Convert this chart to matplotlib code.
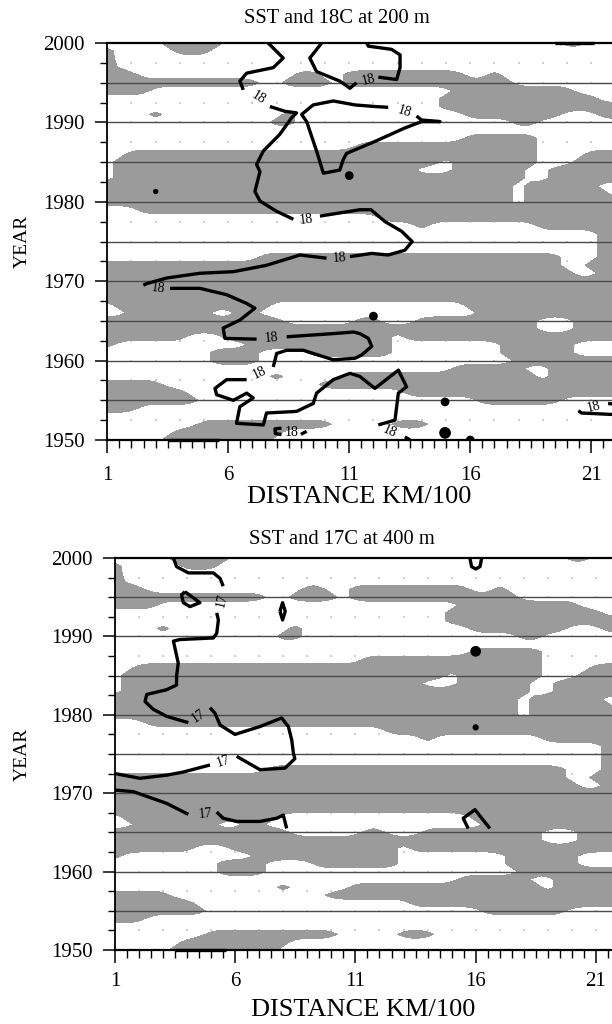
import numpy as np
import matplotlib.pyplot as plt
from matplotlib.ticker import FixedLocator, MultipleLocator

plt.rcParams['font.family'] = ['Liberation Serif', 'DejaVu Serif']

# grid of the SST field: distance (km/100) and year
dist = np.arange(1, 22.01, 0.25)
years = np.arange(1950, 2001)

# distance ranges with warm SST (gray) for each year
sst_spans = {
    2000: [(3.25, 5.75), (19.75, 20.75)],
    1999: [(0.75, 1.25), (3.75, 5.25)],
    1998: [(0.75, 1.3)],
    1997: [(0.75, 1.4)],
    1996: [(0.75, 2.25), (8.75, 9.75), (10.75, 15.75), (16.75, 17.25)],
    1995: [(0.75, 7.25), (8.25, 10.25), (10.75, 17.75)],
    1994: [(0.75, 2.75), (15.25, 20.25)],
    1993: [(14.75, 21.25)],
    1992: [(14.75, 22.25)],
    1991: [(2.75, 3.25), (8.25, 8.75), (15.75, 19.75), (21.25, 22.25)],
    1990: [(7.75, 8.75), (17.75, 18.75)],
    1989: [],
    1988: [(15.75, 18.75)],
    1987: [(11.25, 18.75)],
    1986: [(1.75, 18.75), (20.75, 22.25)],
    1985: [(1.25, 14.75), (15.25, 18.75), (20.25, 22.25)],
    1984: [(1.25, 13.75), (15.25, 18.25), (19.25, 22.25)],
    1983: [(1.25, 18.25), (19.25, 22.25)],
    1982: [(0.75, 17.75), (18.25, 21.25)],
    1981: [(0.75, 17.75), (18.25, 21.75)],
    1980: [(0.75, 17.75), (18.25, 22.25)],
    1979: [(2.25, 22.25)],
    1978: [(12.25, 22.25)],
    1977: [(13.75, 14.25), (18.75, 22.25)],
    1976: [(21.25, 22.25)],
    1975: [(21.25, 22.25)],
    1974: [(21.25, 22.25)],
    1973: [(7.25, 19.75), (21.25, 22.25)],
    1972: [(0.75, 19.75), (20.75, 22.25)],
    1971: [(0.75, 20.25), (21.25, 22.25)],
    1970: [(0.75, 22.25)],
    1969: [(0.75, 22.25)],
    1968: [(0.75, 22.25)],
    1967: [(1.25, 7.75), (15.75, 22.25)],
    1966: [(1.75, 5.25), (6.25, 7.25), (16.25, 22.25)],
    1965: [(0.75, 8.25), (11.25, 12.25), (13.75, 18.75), (20.25, 22.25)],
    1964: [(0.75, 18.75), (20.25, 22.25)],
    1963: [(0.75, 4.25), (5.75, 12.75), (13.25, 22.25)],
    1962: [(0.75, 1.25), (6.75, 12.75), (17.25, 20.25)],
    1961: [(5.25, 7.25), (9.25, 12.75), (17.25, 20.25)],
    1960: [(5.25, 7.25), (17.75, 22.25)],
    1959: [(15.25, 18.25), (19.25, 22.25)],
    1958: [(7.75, 8.25), (10.75, 18.75), (19.25, 22.25)],
    1957: [(0.75, 3.25), (9.75, 22.25)],
    1956: [(0.75, 4.25), (13.25, 22.25)],
    1955: [(0.75, 4.75), (16.25, 19.75)],
    1954: [(0.75, 2.25)],
    1953: [],
    1952: [(4.75, 10.25), (12.75, 14.25)],
    1951: [(3.75, 8.25)],
    1950: [(3.25, 7.75)],
}

# 18C isotherm at 200 m, traced as (distance, year)
iso18_paths = [
    [(7.65, 2000.0), (8.27, 1998.1), (7.86, 1996.9), (6.76, 1996.2), (6.48, 1995.2), (6.62, 1994.1)],
    [(7.72, 1992.0), (8.34, 1991.4), (8.82, 1991.2), (8.62, 1990.6), (8.13, 1988.5), (7.45, 1986.4),
     (7.17, 1984.7), (7.31, 1983.8), (7.1, 1981.3), (7.31, 1980.1), (8.0, 1978.8), (8.69, 1977.8)],
    [(9.79, 1978.2), (11.44, 1979.0), (11.9, 1979.0), (12.48, 1977.5), (13.16, 1976.3), (13.6, 1975.0),
     (13.3, 1973.9), (12.61, 1973.3), (11.93, 1973.5), (11.03, 1973.1)],
    [(10.06, 1972.9), (8.96, 1973.3), (7.58, 1972.0), (6.21, 1971.2), (4.83, 1971.0), (3.45, 1970.4),
     (2.63, 1969.7), (2.49, 1969.5)],
    [(3.59, 1969.1), (4.83, 1969.1), (5.93, 1968.3), (6.76, 1967.2), (7.1, 1966.6), (6.48, 1965.1),
     (5.79, 1964.1), (5.86, 1962.8), (7.17, 1962.7)],
    [(8.41, 1963.0), (10.34, 1963.4), (11.17, 1963.6), (11.44, 1963.4), (11.79, 1962.8), (11.93, 1961.8),
     (11.51, 1960.7), (11.24, 1960.3), (10.34, 1960.1), (9.1, 1961.3), (8.41, 1961.3), (8.0, 1960.9),
     (7.86, 1959.2)],
    [(6.76, 1957.6), (5.93, 1957.6), (5.45, 1956.5), (5.52, 1955.7), (6.21, 1955.0), (6.76, 1955.9),
     (7.03, 1955.3), (6.48, 1954.2), (6.34, 1952.1), (7.45, 1951.9), (7.58, 1953.4), (8.82, 1953.6),
     (9.51, 1954.6), (9.65, 1955.9), (10.34, 1957.6), (11.03, 1958.4), (11.44, 1958.0), (12.06, 1956.5),
     (13.03, 1958.8), (13.37, 1956.7), (13.03, 1955.9), (12.89, 1952.5), (12.2, 1951.9)],
    [(13.3, 1950.4), (13.51, 1950.0)],
    [(9.86, 2000.0), (9.37, 1998.1), (9.65, 1996.4), (10.61, 1995.2), (11.03, 1994.3), (11.3, 1995.0)],
    [(12.2, 1995.7), (12.96, 1995.4), (13.1, 1996.9), (13.1, 1998.5), (12.75, 1999.2), (11.79, 1999.6),
     (11.72, 2000.0)],
    [(12.61, 1991.9), (12.06, 1992.0), (11.24, 1992.2), (10.34, 1992.7), (9.51, 1992.2), (9.03, 1991.0),
     (9.24, 1990.1), (9.65, 1986.4), (9.93, 1983.6), (10.61, 1984.0), (10.75, 1985.3), (10.89, 1986.1),
     (11.44, 1986.8), (12.06, 1987.6), (13.3, 1989.3), (13.99, 1990.1), (14.75, 1990.1), (13.99, 1990.3),
     (13.78, 1990.8)],
    [(8.2, 1951.5), (7.93, 1951.4), (7.95, 1950.8), (8.2, 1950.7)],
    [(9.0, 1950.7), (9.24, 1951.1)],
    [(21.98, 1954.5), (21.7, 1954.6)],
    [(20.47, 1953.7), (20.6, 1953.4), (21.98, 1953.2)],
    [(19.5, 2000.0), (21.1, 2000.0)],
    [(3.5, 1950.0), (5.6, 1950.0)],
]
iso18_labels = [(7.24, 1993.1), (9.24, 1977.8), (10.6, 1972.9), (3.1, 1969.1), (7.79, 1962.8),
                (7.31, 1958.4), (12.68, 1951.0), (11.79, 1995.4), (13.3, 1991.4), (8.6, 1951.0),
                (21.1, 1954.1)]
iso18_dots = [(3.0, 1981.3), (11.0, 1983.3), (12.0, 1965.6), (14.96, 1954.8), (14.96, 1950.9), (16.0, 1950.0)]

# 17C isotherm at 400 m
iso17_paths = [
    [(3.43, 2000.0), (3.56, 1998.9), (4.05, 1998.1), (5.09, 1998.1), (5.37, 1997.4), (5.5, 1996.4)],
    [(5.23, 1993.0), (5.3, 1992.1), (5.23, 1990.4), (5.09, 1989.8), (3.7, 1989.6), (3.43, 1989.4),
     (3.63, 1986.6), (3.56, 1984.9), (3.56, 1983.8), (3.15, 1983.2), (2.32, 1982.6), (2.25, 1981.7),
     (2.59, 1980.7), (3.15, 1979.8), (4.05, 1979.0)],
    [(4.95, 1980.9), (5.16, 1980.2), (5.37, 1978.7), (5.99, 1977.5), (7.03, 1978.5), (7.93, 1979.6),
     (8.21, 1978.5), (8.35, 1976.8), (8.42, 1975.1), (8.48, 1974.4), (8.07, 1973.2), (7.03, 1973.0),
     (6.06, 1974.7)],
    [(4.95, 1973.6), (3.84, 1972.7), (3.15, 1972.3), (2.04, 1971.9), (1.0, 1972.5)],
    [(1.0, 1970.4), (1.76, 1970.2), (3.15, 1968.7), (4.05, 1967.3)],
    [(5.23, 1967.6), (5.5, 1966.8), (6.06, 1966.4), (7.03, 1966.4), (7.72, 1966.8), (8.0, 1967.2),
     (8.14, 1965.5)],
    [(3.91, 1995.7), (4.53, 1994.3), (4.12, 1993.8), (3.84, 1994.3), (3.77, 1995.3), (3.91, 1995.7)],
    [(7.86, 1993.2), (7.97, 1994.3), (8.08, 1993.2), (7.97, 1992.1), (7.86, 1993.2)],
    [(15.76, 2000.0), (15.83, 1998.9), (16.0, 1998.6), (16.18, 1998.9), (16.25, 2000.0)],
    [(15.69, 1965.5), (15.48, 1966.8), (15.97, 1967.9), (16.59, 1965.5)],
    [(3.5, 1950.0), (5.6, 1950.0)],
]
iso17_labels = [(5.43, 1994.6), (4.47, 1979.8), (5.5, 1974.0), (4.74, 1967.4)]
iso17_dots = [(16.0, 1988.1), (16.0, 1978.4)]

# clipped signed distance to the warm spans, so the 0 contour runs along the span ends
# and tapers between years like the original gridded field
CLIP = 0.6
sst = np.full((len(years), len(dist)), -CLIP)
for yr, spans in sst_spans.items():
    row = np.full(len(dist), -np.inf)
    for lo, hi in spans:
        lo = -np.inf if lo <= 1 else lo
        hi = np.inf if hi >= 22 else hi
        d = np.minimum(dist - lo, hi - dist)
        row = np.maximum(row, d)
    sst[yr - 1950] = np.clip(row, -CLIP, CLIP)


def draw_panel(ax, paths, labels, text, dots, dot_sizes, xmax, xpad):
    ax.set_xlim(1, xmax)
    ax.set_ylim(1950, 2000)

    # faint dotted background grid
    gx, gy = np.meshgrid(np.arange(2, 23), np.arange(1952.5, 2000, 2.5))
    ax.scatter(gx.ravel(), gy.ravel(), s=1.5, marker='s', color='#cfcfcf', lw=0, zorder=0)

    ax.contourf(dist, years, sst, levels=[0, 10], colors=['#9b9b9b'], zorder=1)
    for yr in range(1955, 2000, 5):
        ax.axhline(yr, color='#4a4a4a', lw=1.0, zorder=2)

    for p in paths:
        x, y = zip(*p)
        ax.plot(x, y, color='black', lw=2.4, zorder=3, clip_on=False, solid_capstyle='butt')

    dx, dy = zip(*dots)
    ax.scatter(dx, dy, s=dot_sizes, color='black', zorder=3)

    # contour labels, turned along the gap they sit in
    ends = [p[0] for p in paths] + [p[-1] for p in paths]
    ends_px = ax.transData.transform(ends)
    for lx, ly in labels:
        c = ax.transData.transform((lx, ly))
        order = np.argsort(((ends_px - c) ** 2).sum(axis=1))
        a, b = ends_px[order[0]], ends_px[order[1]]
        ang = np.degrees(np.arctan2(b[1] - a[1], b[0] - a[0]))
        if ang > 90:
            ang -= 180
        if ang < -90:
            ang += 180
        ax.text(lx, ly, text, rotation=ang, rotation_mode='anchor', ha='center', va='center',
                fontsize=10, zorder=4)

    ax.xaxis.set_major_locator(FixedLocator([1, 6, 11, 16, 21]))
    ax.xaxis.set_minor_locator(MultipleLocator(0.5))
    ax.yaxis.set_major_locator(MultipleLocator(10))
    ax.yaxis.set_minor_locator(MultipleLocator(2.5))
    ax.tick_params(axis='x', which='major', direction='out', length=9, width=1.1, pad=xpad, labelsize=15)
    ax.tick_params(axis='x', which='minor', direction='out', length=5.5, width=1.0)
    ax.tick_params(axis='y', which='major', direction='out', length=9, width=1.1, pad=7, labelsize=15)
    ax.tick_params(axis='y', which='minor', direction='out', length=5, width=1.0)
    ax.spines['right'].set_visible(False)
    ax.spines['top'].set_linewidth(1.6)
    ax.spines['bottom'].set_linewidth(1.6)
    ax.spines['left'].set_linewidth(1.3)


fig = plt.figure(figsize=(6.12, 10.24), dpi=100)
ax1 = fig.add_axes([107.3 / 612, 1 - 440 / 1024, 1 - 107.3 / 612, 397 / 1024])
ax2 = fig.add_axes([115 / 612, 1 - 950 / 1024, 1 - 115 / 612, 392 / 1024])

draw_panel(ax1, iso18_paths, iso18_labels, '18', iso18_dots, [8, 28, 28, 28, 55, 28], 21.86, 10)
draw_panel(ax2, iso17_paths, iso17_labels, '17', iso17_dots, [45, 12], 21.67, 7)

fig.text(0.5507, 0.9824, 'SST and 18C at 200 m', ha='center', va='center', fontsize=14.8)
fig.text(0.5866, 0.5146, 'DISTANCE KM/100', ha='center', va='center', fontsize=19)
fig.text(0.0359, 0.7646, 'YEAR', ha='center', va='center', rotation=90, fontsize=14)
fig.text(0.5588, 0.4727, 'SST and 17C at 400 m', ha='center', va='center', fontsize=14.8)
fig.text(0.5931, 0.0140, 'DISTANCE KM/100', ha='center', va='center', fontsize=19)
fig.text(0.0359, 0.2637, 'YEAR', ha='center', va='center', rotation=90, fontsize=14)

fig.savefig('out.png', dpi=100)
